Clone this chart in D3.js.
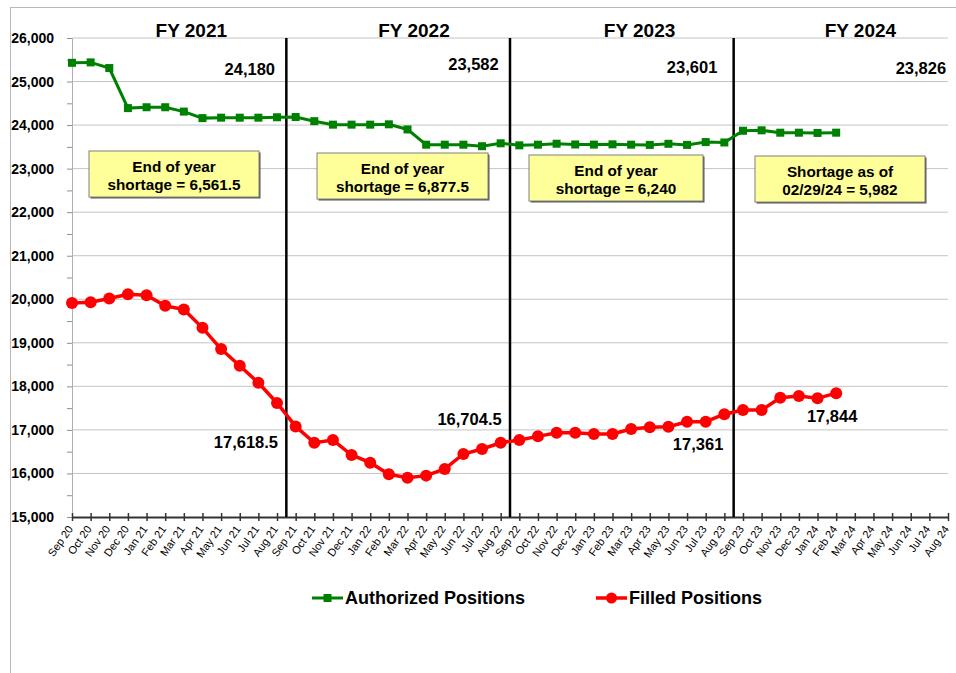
<!DOCTYPE html>
<html><head><meta charset="utf-8">
<script src="https://cdn.jsdelivr.net/npm/d3@7"></script>
<style>
body{margin:0;background:#fff;}
text{font-family:"Liberation Sans",Arial,sans-serif;}
</style></head>
<body><svg id="chart" width="956" height="673"></svg>
<script>
const months = ["Sep 20","Oct 20","Nov 20","Dec 20","Jan 21","Feb 21","Mar 21","Apr 21","May 21","Jun 21","Jul 21","Aug 21",
"Sep 21","Oct 21","Nov 21","Dec 21","Jan 22","Feb 22","Mar 22","Apr 22","May 22","Jun 22","Jul 22","Aug 22",
"Sep 22","Oct 22","Nov 22","Dec 22","Jan 23","Feb 23","Mar 23","Apr 23","May 23","Jun 23","Jul 23","Aug 23",
"Sep 23","Oct 23","Nov 23","Dec 23","Jan 24","Feb 24","Mar 24","Apr 24","May 24","Jun 24","Jul 24","Aug 24"];

const authorized = [25430,25440,25310,24390,24410,24410,24310,24160,24170,24170,24170,24180,
24185,24090,24010,24010,24010,24018,23900,23550,23550,23550,23515,23582,
23535,23550,23572,23555,23552,23558,23550,23545,23570,23545,23610,23601,
23870,23880,23825,23825,23820,23826];

const filled = [19917,19933,20018,20117,20094,19849,19766,19344,18856,18472,18083,17618.5,
17080,16706,16768,16424,16248,15982,15904,15950,16103,16447,16562,16704.5,
16770,16852,16936,16936,16906,16906,17020,17060,17075,17188,17188,17361,
17456,17456,17739,17778,17725,17844];

const fiscalYears = ["FY 2021","FY 2022","FY 2023","FY 2024"];
const fyTitlePos = [6.4, 18.35, 30.45, 42.3];
const fyBoundaries = [11.5, 23.5, 35.5];
const yTicks = [15000,16000,17000,18000,19000,20000,21000,22000,23000,24000,25000,26000];

const shortageBoxes = [
  {lines:["End of year","shortage = 6,561.5"], x0:89, x1:259, y0:151, y1:197},
  {lines:["End of year","shortage = 6,877.5"], x0:317, x1:488, y0:153, y1:199},
  {lines:["End of year","shortage = 6,240"], x0:529, x1:703, y0:155, y1:201},
  {lines:["Shortage as of","02/29/24 = 5,982"], x0:755, x1:925, y0:156, y1:202}
];

const authLabels = [
  {i:11, text:"24,180", dx:-2, y:75},
  {i:23, text:"23,582", dx:-2, y:70},
  {i:35, text:"23,601", dx:-7, y:73},
  {i:41, text:"23,826", dx:110, y:74}
];
const filledLabels = [
  {i:11, text:"17,618.5", dx:1, y:448, anchor:"end"},
  {i:23, text:"16,704.5", dx:1, y:425, anchor:"end"},
  {i:35, text:"17,361", dx:-1, y:450, anchor:"end"},
  {i:41, text:"17,844", dx:-4, y:422, anchor:"middle"}
];

const svg = d3.select("#chart");
const mLeft = 72, mRight = 948, mTop = 38, mBottom = 517;

const x = d3.scaleLinear().domain([0, months.length-1]).range([mLeft, mRight]);
const y = d3.scaleLinear().domain([15000, 26000]).range([mBottom, mTop]);

svg.append("rect").attr("x",10.5).attr("y",7.5).attr("width",1000).attr("height",700)
  .attr("fill","none").attr("stroke","#b8b8b8").attr("stroke-width",1);

svg.append("g").selectAll("line").data(yTicks.filter(d=>d>15000)).join("line")
  .attr("x1",mLeft).attr("x2",mRight).attr("y1",d=>y(d)).attr("y2",d=>y(d))
  .attr("stroke","#c4c4c4").attr("stroke-width",1);

const yAxis = d3.axisLeft(y).tickValues(d3.range(15000, 26001, 500))
  .tickSize(5).tickFormat(d => d % 1000 === 0 ? d3.format(",")(d) : "");
const gy = svg.append("g").attr("transform",`translate(${mLeft},0)`).call(yAxis);
gy.select(".domain").attr("stroke","#b0b0b0");
gy.selectAll(".tick line").attr("stroke","#909090");
gy.selectAll(".tick text").attr("x",-18).attr("font-size","14px").attr("font-weight","bold")
  .attr("fill","#000").attr("font-family","'Liberation Sans',Arial,sans-serif");

const xAxis = d3.axisBottom(x).tickValues(d3.range(months.length)).tickFormat(i=>months[i]).tickSize(0);
const gx = svg.append("g").attr("transform",`translate(0,${mBottom})`).call(xAxis);
gx.select(".domain").attr("stroke","#333").attr("stroke-width",2);
gx.selectAll(".tick").append("line").attr("y1",-4).attr("y2",4).attr("stroke","#333").attr("stroke-width",1.5);
gx.selectAll(".tick text").attr("font-size","11px").attr("fill","#000")
  .attr("font-family","'Liberation Sans',Arial,sans-serif")
  .attr("text-anchor","end").attr("y",0).attr("dy",0)
  .attr("transform","translate(1,12) rotate(-55)");

svg.append("g").selectAll("line").data(fyBoundaries).join("line")
  .attr("x1",d=>x(d)).attr("x2",d=>x(d)).attr("y1",mTop).attr("y2",mBottom)
  .attr("stroke","#000").attr("stroke-width",2.5);

svg.append("g").selectAll("text").data(fiscalYears).join("text")
  .attr("x",(d,i)=>x(fyTitlePos[i])).attr("y",37).attr("text-anchor","middle")
  .attr("font-size","19px").attr("font-weight","bold").text(d=>d);

const line = d3.line().x((d,i)=>x(i)).y(d=>y(d));
svg.append("path").datum(authorized).attr("d",line).attr("fill","none")
  .attr("stroke","#008000").attr("stroke-width",3);
svg.append("g").selectAll("rect").data(authorized).join("rect")
  .attr("x",(d,i)=>x(i)-4).attr("y",d=>y(d)-4).attr("width",8).attr("height",8).attr("fill","#008000");

svg.append("path").datum(filled).attr("d",line).attr("fill","none")
  .attr("stroke","#ff0000").attr("stroke-width",3.5);
svg.append("g").selectAll("circle").data(filled).join("circle")
  .attr("cx",(d,i)=>x(i)).attr("cy",d=>y(d)).attr("r",6).attr("fill","#ff0000");

svg.append("g").selectAll("text").data(authLabels).join("text")
  .attr("x",d=>x(d.i)+d.dx).attr("y",d=>d.y).attr("text-anchor","end")
  .attr("font-size","16.5px").attr("font-weight","bold").text(d=>d.text);
svg.append("g").selectAll("text").data(filledLabels).join("text")
  .attr("x",d=>x(d.i)+d.dx).attr("y",d=>d.y).attr("text-anchor",d=>d.anchor)
  .attr("font-size","16.5px").attr("font-weight","bold").text(d=>d.text);

const bx = svg.append("g").selectAll("g").data(shortageBoxes).join("g");
bx.append("rect").attr("x",d=>d.x0+1.5).attr("y",d=>d.y0+1.5).attr("width",d=>d.x1-d.x0).attr("height",d=>d.y1-d.y0)
  .attr("fill","#555");
bx.append("rect").attr("x",d=>d.x0).attr("y",d=>d.y0).attr("width",d=>d.x1-d.x0).attr("height",d=>d.y1-d.y0)
  .attr("fill","#ffff99").attr("stroke","#808080").attr("stroke-width",1);
bx.each(function(d){
  const g = d3.select(this);
  d.lines.forEach((t,k)=>{
    g.append("text").attr("x",(d.x0+d.x1)/2).attr("y",d.y0+21+k*17.5)
      .attr("text-anchor","middle").attr("font-size","15.3px").attr("font-weight","bold").text(t);
  });
});

const legend = [
  {name:"Authorized Positions", color:"#008000", shape:"square", x0:312},
  {name:"Filled Positions", color:"#ff0000", shape:"circle", x0:596}
];
const lg = svg.append("g").selectAll("g").data(legend).join("g")
  .attr("transform",d=>`translate(${d.x0},598)`);
lg.append("line").attr("x1",0).attr("x2",31).attr("y1",0).attr("y2",0)
  .attr("stroke",d=>d.color).attr("stroke-width",d=>d.shape==="circle"?3.5:3);
lg.filter(d=>d.shape==="square").append("rect").attr("x",11.5).attr("y",-4).attr("width",8).attr("height",8).attr("fill",d=>d.color);
lg.filter(d=>d.shape==="circle").append("circle").attr("cx",15.5).attr("cy",0).attr("r",5.5).attr("fill",d=>d.color);
lg.append("text").attr("x",33).attr("y",6).attr("font-size","18px").attr("font-weight","bold").text(d=>d.name);
</script>
</body></html>
